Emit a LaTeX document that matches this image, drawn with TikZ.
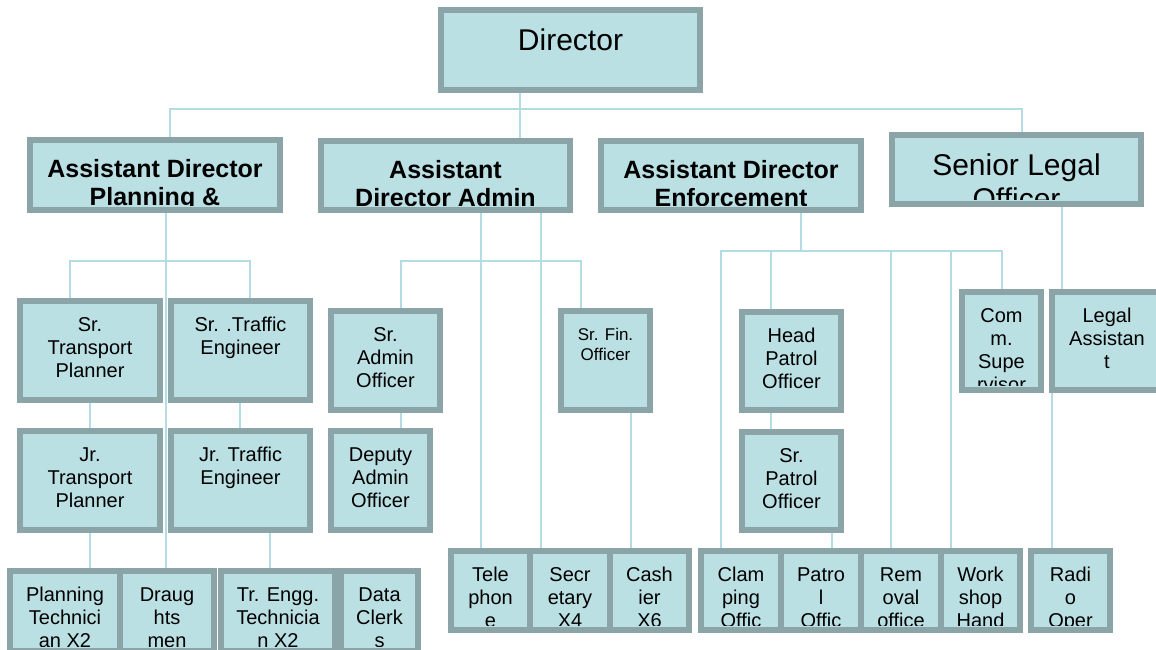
\documentclass[tikz,border=0pt]{standalone}
\usepackage{fontspec}
\setmainfont{Liberation Sans}
\usetikzlibrary{backgrounds}

\definecolor{boxfill}{RGB}{187,224,228}
\definecolor{boxline}{RGB}{139,164,167}
\definecolor{connline}{RGB}{178,221,226}

\newcommand\fntbig{\fontsize{30}{34}\selectfont}
\newcommand\fnthead{\fontsize{25}{28}\selectfont\bfseries}
\newcommand\fntbox{\fontsize{20}{23}\selectfont}
\newcommand\fntsmall{\fontsize{17}{20}\selectfont}

\begin{document}
\begin{tikzpicture}[x=1pt, y=-1pt,
    box/.style n args={3}{draw=boxline, line width=6pt, fill=boxfill,
      anchor=north west, inner sep=0pt,
      path picture={
        \clip (path picture bounding box.north west) rectangle ([yshift=5pt]path picture bounding box.south east);
        \node[anchor=north, align=center, inner sep=0pt, minimum size=0pt, font=#1]
          at (path picture bounding box.north) {\rule{0pt}{#2pt}#3};}},
    conn/.style={draw=connline, line width=2pt}]
  \path[use as bounding box, clip] (0,0) rectangle (1156,650);

  % top level
  \node[box={\fntbig}{38}{Director}, minimum width=259pt, minimum height=80pt] (dir) at (438,7) {};
  \node[box={\fnthead}{34}{Assistant Director\\Planning \&}, minimum width=250pt, minimum height=70pt] (adplan) at (27,137) {};
  \node[box={\fnthead}{34}{Assistant\\Director Admin}, minimum width=249pt, minimum height=69pt] (adadmin) at (318,138) {};
  \node[box={\fnthead}{34}{Assistant Director\\Enforcement}, minimum width=260pt, minimum height=69pt] (adenf) at (598,138) {};
  \node[box={\fntbig}{37}{Senior Legal\\Officer}, minimum width=249pt, minimum height=69pt] (seniorlegal) at (889,132) {};

  % planning
  \node[box={\fntbox}{27}{Sr.\\Transport\\Planner}, minimum width=140pt, minimum height=99pt] (srtp) at (17,298) {};
  \node[box={\fntbox}{27}{Sr. .Traffic\\Engineer}, minimum width=139pt, minimum height=99pt] (srte) at (168,298) {};
  \node[box={\fntbox}{27}{Jr.\\Transport\\Planner}, minimum width=140pt, minimum height=99pt] (jrtp) at (17,428) {};
  \node[box={\fntbox}{27}{Jr. Traffic\\Engineer}, minimum width=139pt, minimum height=99pt] (jrte) at (168,428) {};
  \node[box={\fntbox}{27}{Planning\\Technici\\an X2}, minimum width=110pt, minimum height=80pt] (planning) at (7,568) {};
  \node[box={\fntbox}{27}{Draug\\hts\\men}, minimum width=94pt, minimum height=80pt] (draughts) at (117,568) {};
  \node[box={\fntbox}{27}{Tr. Engg.\\Technicia\\n X2}, minimum width=114pt, minimum height=80pt] (trengg) at (218,568) {};
  \node[box={\fntbox}{27}{Data\\Clerk\\s}, minimum width=77pt, minimum height=80pt] (dataclerks) at (338,568) {};

  % admin
  \node[box={\fntbox}{27}{Sr.\\Admin\\Officer}, minimum width=109pt, minimum height=99pt] (sradmin) at (328,308) {};
  \node[box={\fntbox}{27}{Deputy\\Admin\\Officer}, minimum width=99pt, minimum height=99pt] (deputy) at (328,428) {};
  \node[box={\fntsmall}{26}{Sr. Fin.\\Officer}, minimum width=89pt, minimum height=99pt] (srfin) at (558,308) {};
  \node[box={\fntbox}{27}{Tele\\phon\\e}, minimum width=79pt, minimum height=79pt] (tele) at (448,548) {};
  \node[box={\fntbox}{27}{Secr\\etary\\X4}, minimum width=80pt, minimum height=79pt] (secretary) at (527,548) {};
  \node[box={\fntbox}{27}{Cash\\ier\\X6}, minimum width=79pt, minimum height=79pt] (cashier) at (607,548) {};

  % enforcement
  \node[box={\fntbox}{27}{Head\\Patrol\\Officer}, minimum width=99pt, minimum height=98pt] (head) at (739,309) {};
  \node[box={\fntbox}{27}{Sr.\\Patrol\\Officer}, minimum width=99pt, minimum height=98pt] (srpatrol) at (739,429) {};
  \node[box={\fntbox}{27}{Com\\m.\\Supe\\rvisor}, minimum width=79pt, minimum height=98pt] (comm) at (959,289) {};
  \node[box={\fntbox}{27}{Clam\\ping\\Offic}, minimum width=80pt, minimum height=79pt] (clamping) at (698,548) {};
  \node[box={\fntbox}{27}{Patro\\l\\Offic}, minimum width=80pt, minimum height=79pt] (patrol) at (778,548) {};
  \node[box={\fntbox}{27}{Rem\\oval\\office}, minimum width=80pt, minimum height=79pt] (removal) at (858,548) {};
  \node[box={\fntbox}{27}{Work\\shop\\Hand}, minimum width=79pt, minimum height=79pt] (workshop) at (938,548) {};

  % legal
  \node[box={\fntbox}{27}{Legal\\Assistan\\t}, minimum width=110pt, minimum height=98pt] (legalasst) at (1049,289) {};
  \node[box={\fntbox}{27}{Radi\\o\\Oper}, minimum width=79pt, minimum height=79pt] (radio) at (1028,548) {};

  \begin{scope}[on background layer]
    % buses
    \draw[conn] (520,0 |- dir.south) -- (520,0 |- adadmin.north);
    \draw[conn] (170,0 |- adplan.north) -- (170,109) -- (1022,109) -- (1022,0 |- seniorlegal.north);
    \draw[conn] (70,0 |- srtp.north) -- (70,261) -- (250,261) -- (250,0 |- srte.north);
    \draw[conn] (401,0 |- sradmin.north) -- (401,261) -- (581,261) -- (581,0 |- srfin.north);
    \draw[conn] (801,0 |- adenf.south) -- (801,251);
    \draw[conn] (721,0 |- clamping.north) -- (721,251) -- (1002,251) -- (1002,0 |- comm.north);
    \foreach \x/\a in {771/head, 891/removal, 951/workshop}
      \draw[conn] (\x,251) -- (\x,0 |- \a.north);
    % straight drops
    \foreach \x/\a/\b in {166/adplan/draughts, 90/srtp/jrtp, 90/jrtp/planning,
        240/srte/jrte, 270/jrte/trengg, 481/adadmin/tele, 541/adadmin/secretary,
        401/sradmin/deputy, 631/srfin/cashier, 771/head/srpatrol, 832/srpatrol/patrol,
        1062/seniorlegal/legalasst, 1052/legalasst/radio}
      \draw[conn] (\x,0 |- \a.south) -- (\x,0 |- \b.north);
  \end{scope}
\end{tikzpicture}
\end{document}
